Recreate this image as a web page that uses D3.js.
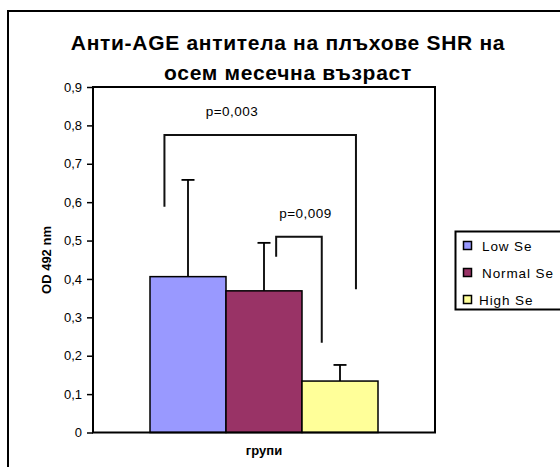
<!DOCTYPE html>
<html>
<head>
<meta charset="utf-8">
<script src="https://cdn.jsdelivr.net/npm/d3@7"></script>
<style>
    body { margin: 0; background: #fff; }
    text { font-family: "Liberation Sans", Arial, sans-serif; fill: #000; }
</style>
</head>
<body>
<div id="container"></div>
<script>
// Data
const category = ["групи"];
const groups = ["Low Se", "Normal Se", "High Se"];
const means = [0.406, 0.369, 0.134];
const sds = [0.252, 0.125, 0.042];
const colors = ["#9999FF", "#993366", "#FFFF99"];
const yTicks = [0, 0.1, 0.2, 0.3, 0.4, 0.5, 0.6, 0.7, 0.8, 0.9];
const titleLines = ["Анти-AGE антитела на плъхове SHR на", "осем месечна възраст"];

// significance brackets: group indexes, top level, end levels (OD units)
const pLabels = ["p=0,003", "p=0,009"];
const bracketFrom = [0, 1];
const bracketTo = [2, 2];
const bracketTop = [0.775, 0.510];
const bracketLeftEnd = [0.588, 0.458];
const bracketRightEnd = [0.373, 0.234];

const W = 560, H = 467;
const plot = {left: 93, right: 435, top: 87, bottom: 432.5};

const svg = d3.select("#container").append("svg")
    .attr("width", W)
    .attr("height", H);

// outer chart border (runs off the right and bottom of the picture)
svg.append("rect")
    .attr("x", 8).attr("y", 11)
    .attr("width", 570).attr("height", 480)
    .attr("fill", "#fff")
    .attr("stroke", "#000")
    .attr("stroke-width", 2);

// title
svg.append("text")
    .attr("text-anchor", "middle")
    .style("font-weight", "bold")
    .style("font-size", "21px")
    .style("letter-spacing", "0.7px")
    .selectAll("tspan")
    .data(titleLines)
    .enter().append("tspan")
    .attr("x", 288)
    .attr("y", (d, i) => 50 + i * 29.5)
    .text(d => d);

// scales
const x0 = d3.scaleBand()
    .domain(category)
    .range([plot.left, plot.right])
    .paddingOuter(0.25);

const x1 = d3.scaleBand()
    .domain(groups)
    .range([0, x0.bandwidth()]);

const y = d3.scaleLinear()
    .domain([0, 0.9])
    .range([plot.bottom, plot.top]);

const fmt = d3.formatLocale({decimal: ",", thousands: " ", grouping: [3], currency: ["", ""]}).format(".1f");

// y axis
const yAxis = svg.append("g")
    .attr("transform", `translate(${plot.left},0)`)
    .call(d3.axisLeft(y).tickValues(yTicks).tickSize(6).tickPadding(5)
        .tickFormat(d => d === 0 ? "0" : fmt(d)));

yAxis.select(".domain").remove();
yAxis.selectAll("line").attr("stroke", "#000").attr("stroke-width", 1.5);
yAxis.selectAll("text")
    .style("font-family", "'Liberation Sans', Arial, sans-serif")
    .style("font-size", "13px");

// bars
const gx = x0(category[0]);
svg.selectAll(".bar")
    .data(groups)
    .enter().append("rect")
    .attr("class", "bar")
    .attr("x", d => gx + x1(d))
    .attr("y", (d, i) => y(means[i]))
    .attr("width", x1.bandwidth())
    .attr("height", (d, i) => y(0) - y(means[i]))
    .attr("fill", (d, i) => colors[i])
    .attr("stroke", "#000")
    .attr("stroke-width", 1.5);

// error bars (upper only)
const cx = d => gx + x1(d) + x1.bandwidth() / 2;
groups.forEach((g, i) => {
    svg.append("line")
        .attr("x1", cx(g)).attr("x2", cx(g))
        .attr("y1", y(means[i])).attr("y2", y(means[i] + sds[i]))
        .attr("stroke", "#000").attr("stroke-width", 1.8);
    svg.append("line")
        .attr("x1", cx(g) - 6.5).attr("x2", cx(g) + 6.5)
        .attr("y1", y(means[i] + sds[i])).attr("y2", y(means[i] + sds[i]))
        .attr("stroke", "#000").attr("stroke-width", 1.8);
});

// plot area frame
svg.append("rect")
    .attr("x", plot.left).attr("y", plot.top)
    .attr("width", plot.right - plot.left)
    .attr("height", plot.bottom - plot.top)
    .attr("fill", "none")
    .attr("stroke", "#000")
    .attr("stroke-width", 2);

// significance brackets
const bw = x1.bandwidth();
const leftOff = [0.19, 0.66];
const rightOff = [0.71, 0.26];
pLabels.forEach((label, i) => {
    const xl = gx + x1(groups[bracketFrom[i]]) + bw * leftOff[i];
    const xr = gx + x1(groups[bracketTo[i]]) + bw * rightOff[i];
    const path = d3.path();
    path.moveTo(xl, y(bracketLeftEnd[i]));
    path.lineTo(xl, y(bracketTop[i]));
    path.lineTo(xr, y(bracketTop[i]));
    path.lineTo(xr, y(bracketRightEnd[i]));
    svg.append("path")
        .attr("d", path.toString())
        .attr("fill", "none")
        .attr("stroke", "#111")
        .attr("stroke-width", 2);
});

svg.append("text")
    .attr("x", 232).attr("y", 116)
    .attr("text-anchor", "middle")
    .style("font-size", "13.5px")
    .style("letter-spacing", "0.5px")
    .text(pLabels[0]);

svg.append("text")
    .attr("x", 305.5).attr("y", 218)
    .attr("text-anchor", "middle")
    .style("font-size", "13.5px")
    .style("letter-spacing", "0.5px")
    .text(pLabels[1]);

// axis titles
svg.append("text")
    .attr("transform", "translate(51,260) rotate(-90)")
    .attr("text-anchor", "middle")
    .style("font-weight", "bold")
    .style("font-size", "13px")
    .text("OD 492 nm");

svg.append("text")
    .attr("x", 264).attr("y", 455)
    .attr("text-anchor", "middle")
    .style("font-weight", "bold")
    .style("font-size", "13px")
    .text(category[0]);

// legend
const legend = svg.append("g");
legend.append("rect")
    .attr("x", 455.5).attr("y", 231.5)
    .attr("width", 110).attr("height", 78)
    .attr("fill", "#fff")
    .attr("stroke", "#000")
    .attr("stroke-width", 2);

const item = legend.selectAll(".legend")
    .data(groups)
    .enter().append("g")
    .attr("class", "legend")
    .attr("transform", (d, i) => `translate(0,${245.5 + i * 27})`);

item.append("rect")
    .attr("x", 463.5).attr("y", -4)
    .attr("width", 8).attr("height", 8)
    .attr("fill", (d, i) => colors[i])
    .attr("stroke", "#000")
    .attr("stroke-width", 1.5);

item.append("text")
    .attr("x", (d, i) => i === 2 ? 479 : 482)
    .attr("y", 5)
    .style("font-size", "13.5px")
    .style("letter-spacing", "0.9px")
    .text(d => d);
</script>
</body>
</html>
